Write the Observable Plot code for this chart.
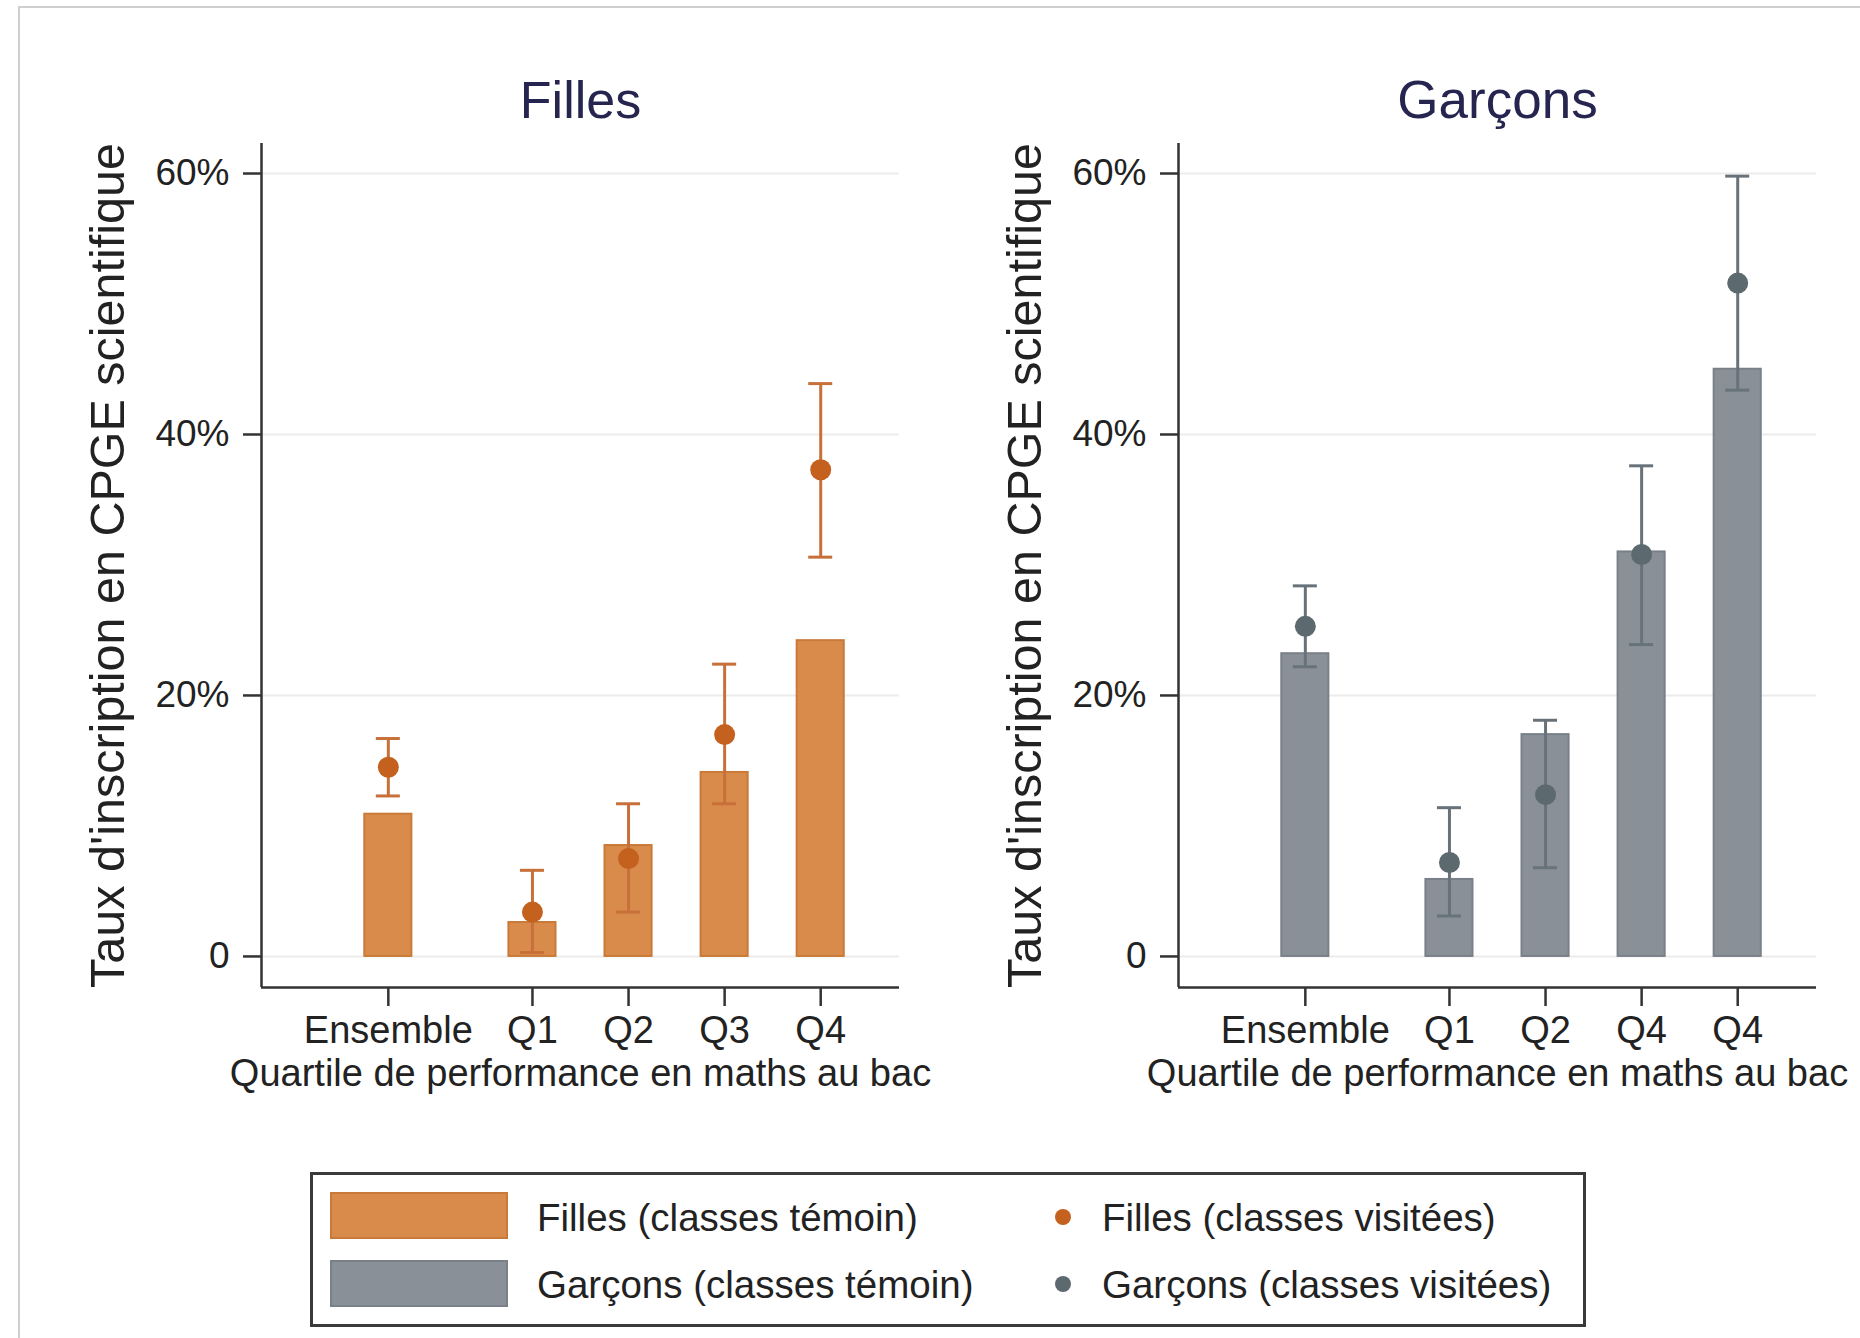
<!DOCTYPE html>
<html>
<head>
<meta charset="utf-8">
<script src="https://cdn.jsdelivr.net/npm/d3@7"></script>
<script src="https://cdn.jsdelivr.net/npm/@observablehq/plot@0.6"></script>
<style>
  html, body { margin: 0; padding: 0; background: #fff; overflow: hidden; }
  body { width: 1860px; height: 1338px; position: relative; font-family: "Liberation Sans", Arial, sans-serif; color: #222; }
  #frame { position: absolute; left: 18px; top: 6px; width: 1900px; height: 1400px; border-left: 2px solid #cfcfcf; border-top: 2px solid #cfcfcf; }
  .panel { position: absolute; top: 40px; }
  #legend { position: absolute; left: 310px; top: 1172px; width: 1276px; height: 155px; box-sizing: border-box; border: 3px solid #3a3a3a; background: #fff; }
  .sw { position: absolute; box-sizing: border-box; border: 2px solid; }
  .dot { position: absolute; border-radius: 50%; }
  .lt { position: absolute; font-size: 38.5px; line-height: 1; white-space: nowrap; color: #222; }
</style>
</head>
<body>
<div id="frame"></div>
<div id="left" class="panel" style="left:20px"></div>
<div id="right" class="panel" style="left:937px"></div>
<div id="legend"></div>
<script>
// ---- data (percent) ----
const xPos = [0, 1.5, 2.5, 3.5, 4.5];
const labelsFilles = ["Ensemble", "Q1", "Q2", "Q3", "Q4"];
const labelsGarcons = ["Ensemble", "Q1", "Q2", "Q4", "Q4"];
const fillesTemoin = [10.9, 2.6, 8.5, 14.1, 24.2];
const fillesVisitees = [14.5, 3.4, 7.5, 17.0, 37.3];
const fillesLow = [12.3, 0.3, 3.4, 11.7, 30.6];
const fillesHigh = [16.7, 6.6, 11.7, 22.4, 43.9];
const garconsTemoin = [23.2, 5.9, 17.0, 31.0, 45.0];
const garconsVisitees = [25.3, 7.2, 12.4, 30.8, 51.6];
const garconsLow = [22.2, 3.1, 6.8, 23.9, 43.4];
const garconsHigh = [28.4, 11.4, 18.1, 37.6, 59.8];
const yTicks = [0, 20, 40, 60];
const legendItems = ["Filles (classes témoin)", "Garçons (classes témoin)", "Filles (classes visitées)", "Garçons (classes visitées)"];

const xDomain = [-1.32, 5.32];
const yDomain = [-2.38, 62.3];

function panel(o) {
  const data = xPos.map((x, i) => ({x, label: o.labels[i], t: o.temoin[i], v: o.visit[i], lo: o.lo[i], hi: o.hi[i]}));
  return Plot.plot({
    width: 923, height: 1070,
    marginLeft: 241, marginRight: 44, marginTop: 103, marginBottom: 123,
    style: {fontFamily: '"Liberation Sans", Arial, sans-serif', background: "transparent", color: "#222", overflow: "visible"},
    x: {domain: xDomain, axis: null},
    y: {domain: yDomain, axis: null},
    marks: [
      Plot.gridY(yTicks, {stroke: "#ececec", strokeOpacity: 1, strokeWidth: 2}),
      Plot.axisY(yTicks, {tickSize: 18, tickPadding: 14, fontSize: 37, stroke: "#333", strokeWidth: 2.5,
        tickFormat: d => d === 0 ? "0" : d + "%", label: null, color: "#222"}),
      Plot.axisX(xPos, {tickSize: 19, tickPadding: 10, fontSize: 38, stroke: "#333", strokeWidth: 2.5,
        tickFormat: d => o.labels[xPos.indexOf(d)], label: null, color: "#222"}),
      Plot.ruleX([xDomain[0]], {stroke: "#333", strokeWidth: 2.5}),
      Plot.ruleY([yDomain[0]], {stroke: "#333", strokeWidth: 2.5}),
      Plot.rectY(data, {x1: d => d.x - 0.245, x2: d => d.x + 0.245, y1: 0, y2: "t", fill: o.barFill, stroke: o.barStroke, strokeWidth: 2}),
      Plot.ruleX(data, {x: "x", y1: "lo", y2: "hi", stroke: o.errColor, strokeWidth: 3}),
      Plot.ruleY(data, {y: "lo", x1: d => d.x - 0.125, x2: d => d.x + 0.125, stroke: o.errColor, strokeWidth: 3}),
      Plot.ruleY(data, {y: "hi", x1: d => d.x - 0.125, x2: d => d.x + 0.125, stroke: o.errColor, strokeWidth: 3}),
      Plot.dot(data, {x: "x", y: "v", r: 10.5, fill: o.pointColor, stroke: "none"}),
      Plot.text([o.title], {frameAnchor: "top", dy: -26, lineAnchor: "bottom", fontSize: o.titleSize, fill: "#25254f"}),
      Plot.text(["Quartile de performance en maths au bac"], {frameAnchor: "bottom", dy: 98, lineAnchor: "bottom", fontSize: 38, fill: "#222"}),
      Plot.text(["Taux d'inscription en CPGE scientifique"], {frameAnchor: "left", dx: -153, rotate: -90, fontSize: 48.5, fill: "#222", textAnchor: "middle", lineAnchor: "middle"})
    ]
  });
}

const orange = {barFill: "#d98b4b", barStroke: "#c97a39", errColor: "#c8703a", pointColor: "#c4611e"};
const gray = {barFill: "#8a9097", barStroke: "#7a8088", errColor: "#68727a", pointColor: "#5c6a70"};

document.getElementById("left").appendChild(panel({
  title: "Filles", titleSize: 52, labels: labelsFilles, temoin: fillesTemoin, visit: fillesVisitees, lo: fillesLow, hi: fillesHigh, ...orange
}));
document.getElementById("right").appendChild(panel({
  title: "Garçons", titleSize: 53, labels: labelsGarcons, temoin: garconsTemoin, visit: garconsVisitees, lo: garconsLow, hi: garconsHigh, ...gray
}));

// legend (page coords relative to legend box at 310,1172 with 3px border)
const lg = document.getElementById("legend");
function add(el) { lg.appendChild(el); return el; }
function sw(top, fill, stroke) {
  const d = document.createElement("div"); d.className = "sw";
  Object.assign(d.style, {left: "17px", top: top + "px", width: "178px", height: "47px", background: fill, borderColor: stroke});
  add(d);
}
function dot(top, color) {
  const d = document.createElement("div"); d.className = "dot";
  Object.assign(d.style, {left: (1063 - 310 - 3 - 8) + "px", top: top + "px", width: "16px", height: "16px", background: color});
  add(d);
}
function txt(left, top, s) {
  const d = document.createElement("div"); d.className = "lt"; d.textContent = s;
  Object.assign(d.style, {left: left + "px", top: top + "px"});
  add(d);
}
sw(1192 - 1175, orange.barFill, orange.barStroke);
sw(1260 - 1175, gray.barFill, gray.barStroke);
txt(537 - 313, 1199 - 1175, legendItems[0]);
txt(537 - 313, 1266 - 1175, legendItems[1]);
dot(1217 - 1175 - 8, orange.pointColor);
dot(1284 - 1175 - 8, gray.pointColor);
txt(1102 - 313, 1199 - 1175, legendItems[2]);
txt(1102 - 313, 1266 - 1175, legendItems[3]);
</script>
</body>
</html>
